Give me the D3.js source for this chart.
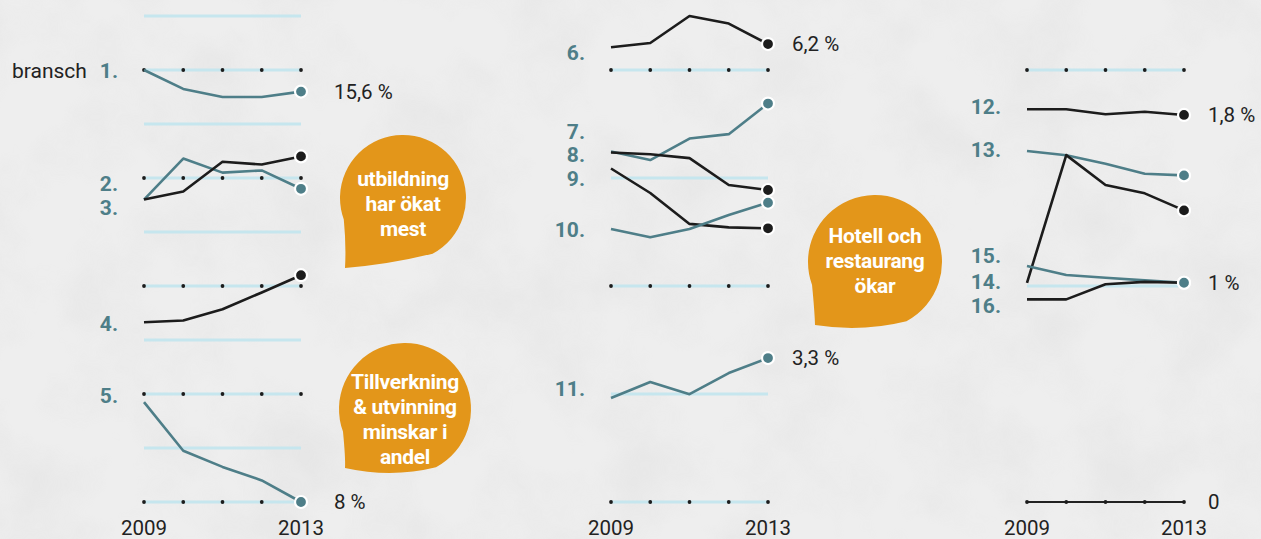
<!DOCTYPE html>
<html>
<head>
<meta charset="utf-8">
<script src="https://cdn.jsdelivr.net/npm/d3@7"></script>
<style>
  body { margin: 0; background: #ececec; }
  svg { display: block; }
</style>
</head>
<body>
<svg id="chart" width="1261" height="539"></svg>
<script>
// data
var years = [2009, 2010, 2011, 2012, 2013];
var yearLabels = ["2009", "2013"];

var panelDomains = [[8, 17], [2, 6.5], [0, 2.25]];
var panelGrid = [
  [8, 9, 10, 11, 12, 13, 14, 15, 16, 17],
  [2, 3, 4, 5, 6],
  [0, 1, 2]
];

var seriesNames = ["1.", "2.", "3.", "4.", "5.", "6.", "7.", "8.", "9.", "10.", "11.", "12.", "13.", "14.", "15.", "16."];
var seriesPanel = [0, 0, 0, 0, 0, 1, 1, 1, 1, 1, 1, 2, 2, 2, 2, 2];
var seriesColor = ["teal", "teal", "black", "black", "teal", "black", "teal", "black", "black", "teal", "teal", "black", "teal", "black", "teal", "black"];
var seriesValues = [
  [16.0, 15.65, 15.5, 15.5, 15.6],
  [13.6, 14.36, 14.1, 14.14, 13.8],
  [13.6, 13.75, 14.3, 14.25, 14.4],
  [11.33, 11.36, 11.57, 11.88, 12.2],
  [9.85, 8.95, 8.65, 8.4, 8.0],
  [6.21, 6.25, 6.5, 6.43, 6.24],
  [5.245, 5.166, 5.365, 5.406, 5.689],
  [5.236, 5.22, 5.184, 4.935, 4.889],
  [5.088, 4.861, 4.575, 4.543, 4.534],
  [4.528, 4.451, 4.528, 4.658, 4.771],
  [2.963, 3.111, 2.998, 3.194, 3.333],
  [1.818, 1.818, 1.795, 1.807, 1.792],
  [1.625, 1.605, 1.566, 1.52, 1.512],
  [1.015, 1.606, 1.468, 1.429, 1.35],
  [1.093, 1.051, 1.038, 1.026, 1.015],
  [0.938, 0.938, 1.008, 1.019, 1.015]
];
// where the rank number sits (in the panel's % units)
var labelValues = [16.0, 13.9, 13.45, 11.31, 9.98, 6.16, 5.43, 5.22, 5.0, 4.52, 3.05, 1.83, 1.63, 1.02, 1.14, 0.91];

var endLabelSeries = [0, 4, 5, 10, 11, 14];
var endLabelTexts = ["15,6 %", "8 %", "6,2 %", "3,3 %", "1,8 %", "1 %"];

var bubbleTexts = [
  ["utbildning", "har ökat", "mest"],
  ["Tillverkning", "& utvinning", "minskar i", "andel"],
  ["Hotell och", "restaurang", "ökar"]
];

var colors = { teal: "#4e7e88", black: "#1c1c1c" };

var svg = d3.select("#chart");

// paper background
var defs = svg.append("defs");
var f = defs.append("filter").attr("id", "paper").attr("x", 0).attr("y", 0).attr("width", "100%").attr("height", "100%");
f.append("feTurbulence").attr("type", "fractalNoise").attr("baseFrequency", 0.012).attr("numOctaves", 4).attr("seed", 3);
f.append("feColorMatrix").attr("type", "matrix")
  .attr("values", "0 0 0 0 0.55  0 0 0 0 0.55  0 0 0 0 0.55  0 0 0 -0.9 0.55");
svg.append("rect").attr("width", 1261).attr("height", 539).attr("fill", "#eeeeee");
svg.append("rect").attr("width", 1261).attr("height", 539).attr("filter", "url(#paper)").attr("opacity", 0.35);

var panelX = [144, 611, 1027];
var panelW = 157;
var yTop = 16, yBottom = 502;
var valueOffset = [33, 24, 24];
var textSize = 20.5;

var xs = [], ys = [];
for (var p = 0; p < 3; p++) {
  xs.push(d3.scalePoint().domain(years).range([panelX[p], panelX[p] + panelW]));
  ys.push(d3.scaleLinear().domain(panelDomains[p]).range([yBottom, yTop]));
}

// grid
for (var p = 0; p < 3; p++) {
  var x = xs[p], y = ys[p];
  var g = svg.append("g");
  for (var i = 0; i < panelGrid[p].length; i++) {
    var v = panelGrid[p][i];
    var baseline = (p == 2 && v == 0);
    g.append("line")
      .attr("x1", x(years[0])).attr("x2", x(years[years.length - 1]))
      .attr("y1", y(v)).attr("y2", y(v))
      .attr("stroke", baseline ? "#222" : "#c6e6ee")
      .attr("stroke-width", baseline ? 2.2 : 3);
    if (v % 2 == 0) {
      g.selectAll(null).data(years).enter().append("circle")
        .attr("cx", function(d) { return x(d); })
        .attr("cy", y(v))
        .attr("r", 1.9)
        .attr("fill", "#1c1c1c");
    }
  }
  // year labels
  svg.append("g").selectAll("text").data(yearLabels).enter().append("text")
    .attr("x", function(d) { return x(+d); })
    .attr("y", 535)
    .attr("text-anchor", "middle")
    .attr("font-family", "Roboto, sans-serif")
    .attr("font-size", textSize)
    .attr("fill", "#222")
    .text(function(d) { return d; });
}

// zero label on right panel
svg.append("text")
  .attr("x", xs[2](2013) + valueOffset[2])
  .attr("y", ys[2](0))
  .attr("dy", "0.36em")
  .attr("font-family", "Roboto, sans-serif")
  .attr("font-size", textSize)
  .attr("fill", "#222")
  .text("0");

// lines
for (var s = 0; s < seriesValues.length; s++) {
  var p = seriesPanel[s];
  var line = d3.line()
    .x(function(d, i) { return xs[p](years[i]); })
    .y(function(d) { return ys[p](d); });
  svg.append("path")
    .datum(seriesValues[s])
    .attr("fill", "none")
    .attr("stroke", colors[seriesColor[s]])
    .attr("stroke-width", 2.6)
    .attr("stroke-linejoin", "round")
    .attr("d", line);
}

// end dots, teal on top
var order = d3.range(seriesValues.length).sort(function(a, b) {
  return (seriesColor[a] == "teal") - (seriesColor[b] == "teal");
});
for (var k = 0; k < order.length; k++) {
  var s = order[k], p = seriesPanel[s];
  var vals = seriesValues[s];
  svg.append("circle")
    .attr("cx", xs[p](years[years.length - 1]))
    .attr("cy", ys[p](vals[vals.length - 1]))
    .attr("r", 6)
    .attr("fill", colors[seriesColor[s]])
    .attr("stroke", "#fff")
    .attr("stroke-width", 2.2);
}

// rank numbers
for (var s = 0; s < seriesNames.length; s++) {
  var p = seriesPanel[s];
  svg.append("text")
    .attr("x", panelX[p] - 26)
    .attr("y", ys[p](labelValues[s]))
    .attr("dy", "0.36em")
    .attr("text-anchor", "end")
    .attr("font-family", "Roboto, sans-serif")
    .attr("font-weight", "bold")
    .attr("font-size", 21)
    .attr("fill", colors.teal)
    .text(seriesNames[s]);
}

svg.append("text")
  .attr("x", 12)
  .attr("y", ys[0](labelValues[0]))
  .attr("dy", "0.36em")
  .attr("font-family", "Roboto, sans-serif")
  .attr("font-size", 21)
  .attr("fill", "#222")
  .text("bransch");

// end value labels
for (var i = 0; i < endLabelSeries.length; i++) {
  var s = endLabelSeries[i], p = seriesPanel[s];
  var vals = seriesValues[s];
  svg.append("text")
    .attr("x", xs[p](years[years.length - 1]) + valueOffset[p])
    .attr("y", ys[p](vals[vals.length - 1]))
    .attr("dy", "0.36em")
    .attr("font-family", "Roboto, sans-serif")
    .attr("font-size", textSize)
    .attr("fill", "#222")
    .text(endLabelTexts[i]);
}

// speech bubbles
function bubblePath(cx, cy, r, tx, ty) {
  var a1 = 160 * Math.PI / 180, a2 = 62 * Math.PI / 180;
  var sx = cx + r * Math.cos(a1), sy = cy + r * Math.sin(a1);
  var p = d3.path();
  p.moveTo(sx, sy);
  p.arc(cx, cy, r, a1, a2 + 2 * Math.PI, false);
  p.quadraticCurveTo(cx - 0.2 * r, cy + 1.05 * r, tx, ty);
  p.quadraticCurveTo(cx - 0.9 * r, cy + 0.75 * r, sx, sy);
  p.closePath();
  return p.toString();
}

var bubbles = [
  { cx: 403, cy: 198, r: 63, tx: 345, ty: 268, ty0: 178 },
  { cx: 405, cy: 409, r: 66, tx: 345, ty: 468, ty0: 381 },
  { cx: 875, cy: 262, r: 67, tx: 815, ty: 325, ty0: 235 }
];
for (var b = 0; b < bubbles.length; b++) {
  var bb = bubbles[b];
  svg.append("path")
    .attr("d", bubblePath(bb.cx, bb.cy, bb.r, bb.tx, bb.ty))
    .attr("fill", "#e3961a");
  svg.append("g").selectAll("text").data(bubbleTexts[b]).enter().append("text")
    .attr("x", bb.cx)
    .attr("y", function(d, i) { return bb.ty0 + i * 25; })
    .attr("dy", "0.36em")
    .attr("text-anchor", "middle")
    .attr("font-family", "Roboto, sans-serif")
    .attr("font-weight", "bold")
    .attr("font-size", 21)
    .attr("letter-spacing", -0.3)
    .attr("fill", "#fff")
    .text(function(d) { return d; });
}
</script>
</body>
</html>
